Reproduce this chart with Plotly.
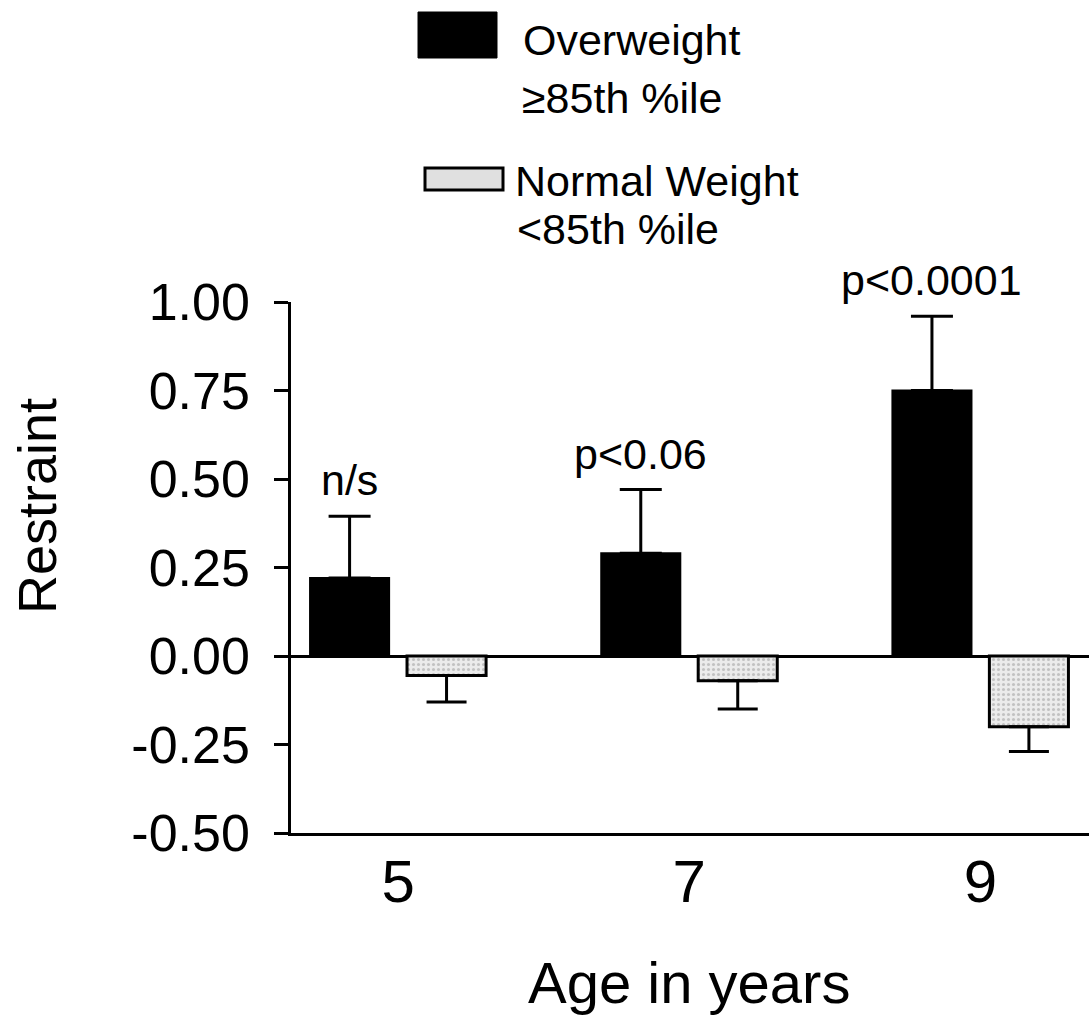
import plotly.graph_objects as go

# ---- data ----
ages = [5, 7, 9]
age_labels = ["5", "7", "9"]
overweight_mean = [0.22, 0.29, 0.75]
overweight_sem = [0.175, 0.18, 0.21]
normal_mean = [-0.055, -0.07, -0.20]
normal_sem = [0.075, 0.08, 0.07]
p_labels = ["n/s", "p<0.06", "p<0.0001"]
y_ticks = [1.00, 0.75, 0.50, 0.25, 0.00, -0.25, -0.50]
y_tick_labels = ["1.00", "0.75", "0.50", "0.25", "0.00", "-0.25", "-0.50"]

# ---- style ----
FONT = "Liberation Sans, Arial, Helvetica, sans-serif"
BAR_W = 0.543
SHIFT = 0.333
LW = 2.5

fig = go.Figure()
fig.add_trace(go.Bar(
    x=ages, y=overweight_mean, width=BAR_W, offset=-SHIFT - BAR_W / 2,
    marker=dict(color="black", line=dict(color="black", width=2)),
    error_y=dict(type="data", array=overweight_sem, arrayminus=[0] * 3,
                 color="black", thickness=3, width=21),
    showlegend=False, name="Overweight ≥85th %ile"))
fig.add_trace(go.Bar(
    x=ages, y=normal_mean, width=BAR_W, offset=SHIFT - BAR_W / 2,
    marker=dict(color="#e0e0e0", line=dict(color="black", width=3),
                pattern=dict(shape=".", fgcolor="#989898", bgcolor="#ebebeb",
                             size=5, solidity=0.3)),
    error_y=dict(type="data", array=[0] * 3, arrayminus=normal_sem,
                 color="black", thickness=3, width=20),
    showlegend=False, name="Normal Weight <85th %ile"))

annotations = []
for a, m, e, t in zip(ages, overweight_mean, overweight_sem, p_labels):
    annotations.append(dict(x=a - SHIFT, y=m + e, xref="x", yref="y", text=t,
                            showarrow=False, yanchor="bottom", yshift=10,
                            font=dict(family=FONT, size=43, color="black")))

# legend (drawn manually)
def px_x(p):
    return (p - 291) / 798.0

def px_y(p):
    return (833 - p) / 531.0

shapes = [
    dict(type="rect", xref="paper", yref="paper", x0=px_x(418), x1=px_x(497),
         y0=px_y(58), y1=px_y(12), fillcolor="black", line=dict(color="black", width=1)),
    dict(type="rect", xref="paper", yref="paper", x0=px_x(425), x1=px_x(503),
         y0=px_y(190), y1=px_y(168), fillcolor="#e0e0e0", line=dict(color="black", width=3)),
]
leg_texts = [("Overweight", 521, 40), ("≥85th %ile", 520, 98),
             ("Normal Weight", 513, 181), ("<85th %ile", 515, 229)]
for t, x, y in leg_texts:
    annotations.append(dict(x=px_x(x), y=px_y(y), xref="paper", yref="paper", text=t,
                            showarrow=False, xanchor="left", yanchor="middle",
                            font=dict(family=FONT, size=43, color="black")))

annotations.append(dict(x=px_x(37), y=px_y(506), xref="paper", yref="paper",
                        text="Restraint", textangle=-90, showarrow=False,
                        xanchor="center", yanchor="middle",
                        font=dict(family=FONT, size=54, color="black")))
annotations.append(dict(x=px_x(689), y=px_y(982), xref="paper", yref="paper",
                        text="Age in years", showarrow=False,
                        xanchor="center", yanchor="middle",
                        font=dict(family=FONT, size=58, color="black")))

fig.update_layout(
    width=1089, height=1018,
    margin=dict(l=291, r=0, t=302, b=185, pad=0),
    paper_bgcolor="white", plot_bgcolor="white",
    barmode="overlay",
    shapes=shapes, annotations=annotations,
    font=dict(family=FONT, color="black"),
    xaxis=dict(range=[4.2646, 9.7457], tickvals=ages, ticktext=age_labels,
               showgrid=False, zeroline=False, showline=True, linecolor="black",
               linewidth=LW, ticks="", ticklabelstandoff=-6,
               tickfont=dict(family=FONT, size=60, color="black")),
    yaxis=dict(range=[-0.5, 1.0], tickvals=y_ticks, ticktext=y_tick_labels,
               showgrid=False, zeroline=True, zerolinecolor="black", zerolinewidth=3,
               showline=True, linecolor="black", linewidth=LW,
               ticks="outside", ticklen=14, tickwidth=LW, tickcolor="black",
               ticklabelstandoff=14,
               tickfont=dict(family=FONT, size=52, color="black")),
)

fig.write_html("out.html")
